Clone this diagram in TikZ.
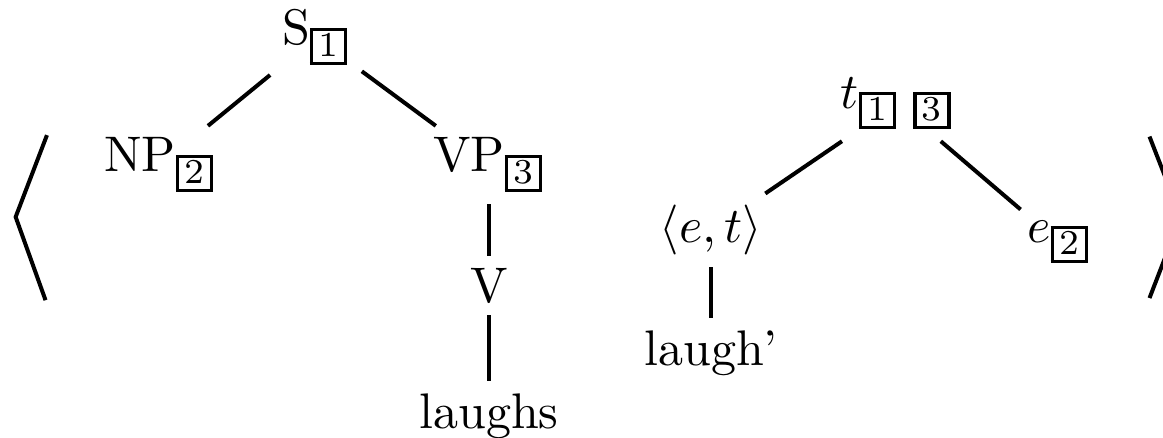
\documentclass[tikz,border=0pt]{standalone}
\usepackage{amsmath}
\newcommand{\tbox}[1]{{\setlength{\fboxsep}{0pt}\setlength{\fboxrule}{0.7pt}%
  \fbox{\makebox[6.1pt]{\rule[-1pt]{0pt}{6.1pt}\scriptsize #1}}}}
\tikzset{
    cat/.style={inner sep=2.4pt, outer sep=0pt, anchor=base},
    branch/.style={thick},
    brack/.style={thick, line join=miter}
}
\begin{document}
\begin{tikzpicture}
  \useasboundingbox (0,0) rectangle (8.175,-3.072);
  % Syntactic tree
  \node[cat] (s) at (2.221,-0.316) {S$_{\tbox{1}}$};
  \node[cat] (np) at (1.125,-1.209) {NP$_{\tbox{2}}$};
  \node[cat] (vp) at (3.437,-1.209) {VP$_{\tbox{3}}$};
  \node[cat] (v) at (3.437,-2.123) {V};
  \node[cat] (laughs) at (3.437,-3.009) {laughs};
  \draw[branch] (s) -- (np);
  \draw[branch] (s) -- (vp);
  \draw[branch] (vp) -- (v);
  \draw[branch] (v) -- (laughs);

  % Semantic tree
  \node[cat] (t) at (6.305,-0.766) {$t_{\tbox{1}\ \tbox{3}}$};
  \node[cat] (et) at (4.998,-1.708) {$\langle e,t\rangle$};
  \node[cat] (e) at (7.444,-1.708) {$e_{\tbox{2}}$};
  \node[cat] (laugh) at (4.998,-2.566) {laugh\textquoteright};
  \draw[branch] (t) -- (et);
  \draw[branch] (t) -- (e);
  \draw[branch] (et) -- (laugh);

  % Angle brackets round the pair
  \draw[brack] (0.33,-0.95) -- (0.11,-1.525) -- (0.32,-2.11);
  \draw[brack] (8.08,-0.96) -- (8.30,-1.525) -- (8.08,-2.095);
\end{tikzpicture}
\end{document}
